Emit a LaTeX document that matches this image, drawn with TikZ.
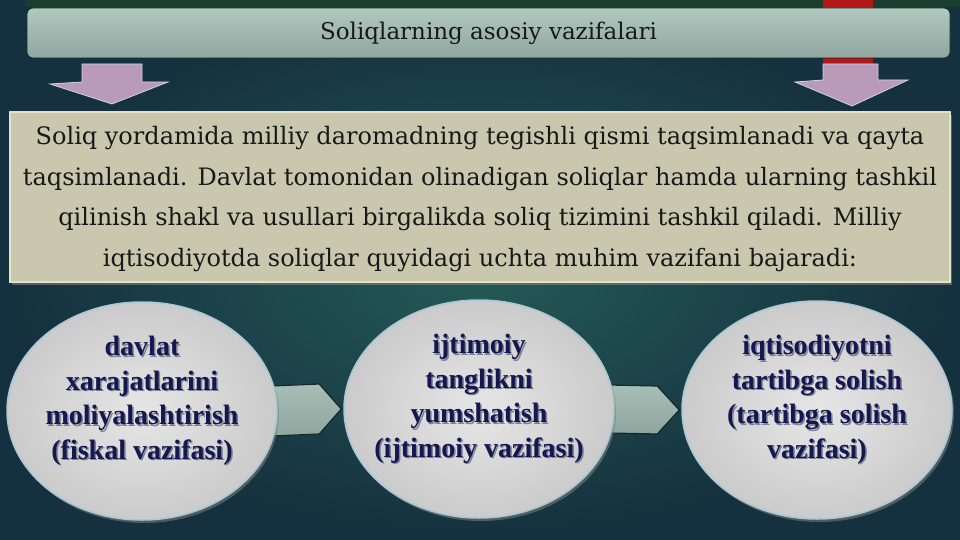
\documentclass[tikz,border=0pt]{standalone}
\usepackage{fontspec}
\setmainfont{DejaVu Serif}
\newfontfamily\ellfont{Liberation Serif}
\usetikzlibrary{shapes.geometric,shadows,calc}
\pgfdeclarelayer{back}
\pgfdeclarelayer{mid}
\pgfsetlayers{back,mid,main}
\definecolor{bgin}{HTML}{245A56}
\definecolor{bgout}{HTML}{15303E}
\definecolor{topstrip}{HTML}{1B3D2E}
\definecolor{redbar}{HTML}{B01818}
\definecolor{bantop}{HTML}{B0C8C0}
\definecolor{banbot}{HTML}{8FA79F}
\definecolor{arrfill}{HTML}{B99AB9}
\definecolor{arredge}{HTML}{CAD4E4}
\definecolor{beige}{HTML}{C9C8AE}
\definecolor{beigeedge}{HTML}{E0E3CA}
\definecolor{chevtop}{HTML}{A6BEB6}
\definecolor{chevbot}{HTML}{8EA69E}
\definecolor{chevedge}{HTML}{162828}
\definecolor{ellin}{HTML}{E6E6E6}
\definecolor{ellout}{HTML}{CBCBCB}
\definecolor{elledge}{HTML}{A8C8D4}
\definecolor{navy}{HTML}{161650}
\definecolor{tshadow}{HTML}{7A8494}
\definecolor{bodytext}{HTML}{181818}
\tikzset{
  banner/.style={rectangle, rounded corners=6pt, minimum width=923pt, minimum height=50pt,
    inner sep=0pt, top color=bantop, bottom color=banbot, draw=chevedge, line width=0.8pt,
    font=\fontsize{23}{26}\selectfont, text=bodytext},
  textbox/.style={rectangle, minimum width=940pt, minimum height=170pt, inner sep=0pt,
    fill=beige, draw=beigeedge, line width=1.5pt,
    drop shadow={opacity=0.6, shadow xshift=2pt, shadow yshift=-3pt}},
  bodyfont/.style={align=center, font=\fontsize{24}{40.5}\selectfont, text=bodytext, inner sep=0pt},
  ellbox/.style={ellipse, minimum width=270pt, minimum height=218pt, inner sep=0pt,
    inner color=ellin, outer color=ellout, draw=elledge, line width=1.5pt,
    drop shadow={opacity=0.55, shadow xshift=2pt, shadow yshift=-3pt}},
  elltext/.style={align=center, font=\ellfont\bfseries\fontsize{28}{34.5}\selectfont, text=navy, inner sep=0pt},
  ellshadow/.style={elltext, text=tshadow},
  chev/.style={top color=chevtop, bottom color=chevbot, draw=chevedge, line width=1.2pt, line join=miter},
  downarrow/.style={fill=arrfill, draw=arredge, line width=0.8pt, line join=miter}
}
\begin{document}
\begin{tikzpicture}[x=1pt,y=-1pt]
\useasboundingbox (0,0) rectangle (960,540);
\begin{pgfonlayer}{back}
% background
\shade[inner color=bgin, outer color=bgout] (0,0) rectangle (960,540);
\fill[topstrip] (25,0) rectangle (960,7);
\fill[redbar] (823,0) rectangle (873,66);
% banner
\node[banner] (hd) at (488.5,33) {Soliqlarning asosiy vazifalari};
% down arrows
\draw[downarrow] (82,64) -- (142,64) -- (142,82) -- (168,82) -- (112,104) -- (50,84) -- (82,82) -- cycle;
\draw[downarrow] (823,64) -- (878,64) -- (878,80) -- (908,80) -- (852,106) -- (795,82) -- (823,80) -- cycle;
% text box
\node[textbox] (bx) at (480,197) {};
\node[bodyfont] (bt) at (480,199) {Soliq yordamida milliy daromadning tegishli qismi taqsimlanadi va qayta\\
taqsimlanadi. Davlat tomonidan olinadigan soliqlar hamda ularning tashkil\\
qilinish shakl va usullari birgalikda soliq tizimini tashkil qiladi. Milliy\\
iqtisodiyotda soliqlar quyidagi uchta muhim vazifani bajaradi:};
\end{pgfonlayer}
% ellipses
\node[ellbox] (e1) at (142,411) {};
\node[ellbox] (e2) at (479,409) {};
\node[ellbox] (e3) at (817,410) {};
% chevrons behind the ellipses
\begin{pgfonlayer}{mid}
\draw[chev] ($(e1.east)+(-6,-25)$) -- ($(e2.west)+(-24,-25)$) -- ($(e2.west)+(-2,0)$) -- ($(e2.west)+(-24,25)$) -- ($(e1.east)+(-6,25)$) -- cycle;
\draw[chev] ($(e2.east)+(-6,-24)$) -- ($(e3.west)+(-24,-24)$) -- ($(e3.west)+(-2,0)$) -- ($(e3.west)+(-24,24)$) -- ($(e2.east)+(-6,24)$) -- cycle;
\end{pgfonlayer}
% ellipse texts
\node[ellshadow] (s1) at ($(e1.center)+(1.5,-8.5)$) {davlat\\xarajatlarini\\moliyalashtirish\\(fiskal vazifasi)};
\node[elltext] (t1) at ($(e1.center)+(0,-10)$) {davlat\\xarajatlarini\\moliyalashtirish\\(fiskal vazifasi)};
\node[ellshadow] (s2) at ($(e2.center)+(1.5,-8.5)$) {ijtimoiy\\tanglikni\\yumshatish\\(ijtimoiy vazifasi)};
\node[elltext] (t2) at ($(e2.center)+(0,-10)$) {ijtimoiy\\tanglikni\\yumshatish\\(ijtimoiy vazifasi)};
\node[ellshadow] (s3) at ($(e3.center)+(1.5,-8.5)$) {iqtisodiyotni\\tartibga solish\\(tartibga solish\\vazifasi)};
\node[elltext] (t3) at ($(e3.center)+(0,-10)$) {iqtisodiyotni\\tartibga solish\\(tartibga solish\\vazifasi)};
\end{tikzpicture}
\end{document}
